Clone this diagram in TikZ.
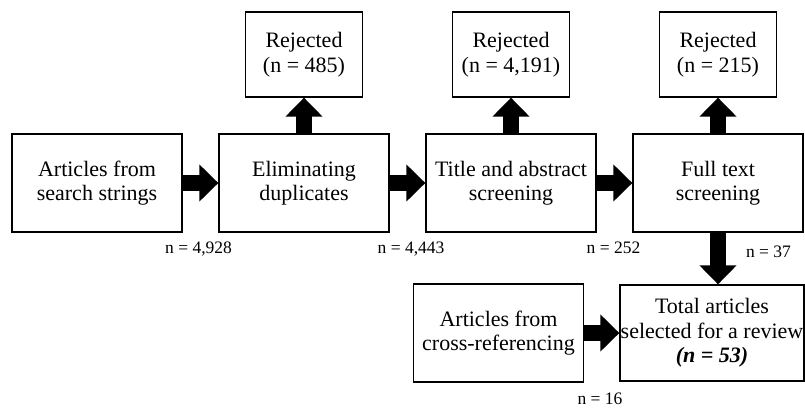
\documentclass[tikz,border=0pt]{standalone}
\usepackage{fontspec}
\setmainfont{Liberation Serif}
\usetikzlibrary{arrows.meta}

\begin{document}
\begin{tikzpicture}[x=1pt,y=-1pt,
    box/.style={draw, line width=1.3pt, minimum width=170pt, minimum height=98pt,
        align=center, inner sep=0pt, font=\fontsize{22}{24.5}\selectfont},
    rejbox/.style={box, minimum width=117pt, minimum height=85pt},
    count/.style={anchor=base, inner sep=0pt, font=\fontsize{17.5}{20}\selectfont},
    blk/.style={line width=16pt, -{Triangle[width=36pt,length=19pt]}}]
    \useasboundingbox (0,0) rectangle (805,407);

    % main row
    \node[box] (src) at (97,183) {Articles from\\search strings};
    \node[box] (dup) at (304,183) {Eliminating\\duplicates};
    \node[box] (tas) at (511,183) {Title and abstract\\screening};
    \node[box] (fts) at (718,183) {Full text\\screening};

    % rejected ones
    \node[rejbox] (rejA) at (304,54.5) {Rejected\\(n = 485)};
    \node[rejbox] (rejB) at (511,54.5) {Rejected\\(n = 4,191)};
    \node[rejbox] (rejC) at (718,54.5) {Rejected\\(n = 215)};

    % second row
    \node[box] (xref) at (498.5,333) {Articles from\\cross-referencing};
    \node[box, minimum width=184pt, minimum height=96pt] (tot) at (712,333)
        {Total articles\\selected for a review\\\textbf{\textit{(n = 53)}}};

    \draw[blk] (src) -- (dup);
    \draw[blk] (dup) -- (tas);
    \draw[blk] (tas) -- (fts);
    \draw[blk] (dup) -- (rejA);
    \draw[blk] (tas) -- (rejB);
    \draw[blk] (fts) -- (rejC);
    \draw[blk] (fts.south) -- (fts.south |- tot.north);
    \draw[blk] (xref) -- (tot);

    % counts under the arrows
    \node[count] (nA) at (198.5,253) {n = 4,928};
    \node[count] (nB) at (411,253) {n = 4,443};
    \node[count] (nC) at (613.5,253) {n = 252};
    \node[count] (nD) at (768.5,257) {n = 37};
    \node[count] (nE) at (600,404) {n = 16};
\end{tikzpicture}
\end{document}
